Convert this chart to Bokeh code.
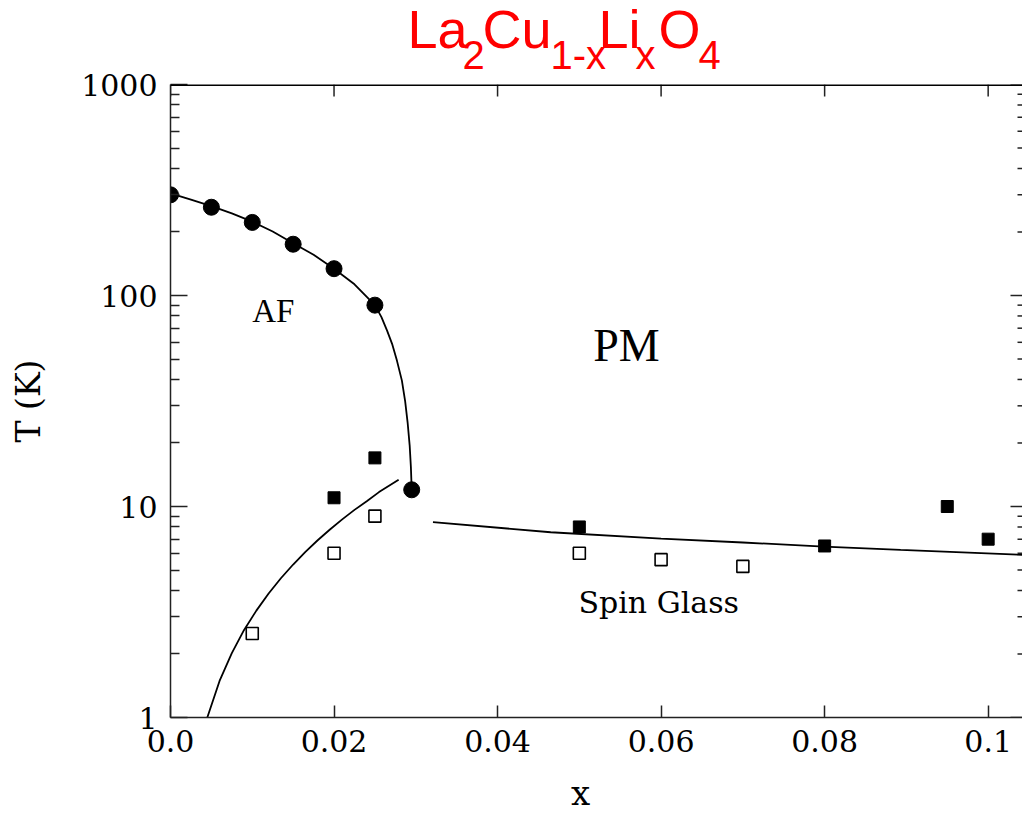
import math
from bokeh.plotting import figure
from bokeh.layouts import column
from bokeh.models import Range1d, FixedTicker, Span
from bokeh.core.properties import value
from bokeh.embed import file_html
from bokeh.resources import INLINE

# ---------------- data ----------------
# Neel temperature (filled circles)
af_x = [0.0, 0.005, 0.01, 0.015, 0.02, 0.025, 0.0295]
af_T = [300, 262, 222, 175, 134, 90, 12]

# spin-glass freezing, filled squares
sgf_x = [0.02, 0.025, 0.05, 0.08, 0.095, 0.1]
sgf_T = [11.0, 17.0, 8.0, 6.5, 10.0, 7.0]

# spin-glass, open squares
sgo_x = [0.01, 0.02, 0.025, 0.05, 0.06, 0.07]
sgo_T = [2.5, 6.0, 9.0, 6.0, 5.6, 5.2]

# guide curves
neel_curve_x = [0.0, 0.0025, 0.005, 0.0075, 0.01, 0.0125, 0.015, 0.0175, 0.02,
                0.0225, 0.025, 0.0258, 0.0265, 0.0271, 0.0277, 0.0283, 0.0287,
                0.0290, 0.02925, 0.0294, 0.0295]
neel_curve_T = [305, 285, 265, 245, 224, 201, 177, 156, 134,
                113, 90, 79, 68, 59, 49, 39.5, 31.5,
                25.0, 19.5, 15.4, 12.0]

sg_curve1_x = [0.0045, 0.006, 0.0075, 0.009, 0.0105, 0.012, 0.0135, 0.015, 0.0165,
               0.018, 0.0195, 0.021, 0.0225, 0.024, 0.0255, 0.0279]
sg_curve1_T = [1.00, 1.49, 2.02, 2.60, 3.21, 3.87, 4.57, 5.31, 6.09,
               6.92, 7.78, 8.69, 9.64, 10.6, 11.7, 13.4]

sg_curve2_x = [0.0321, 0.0465, 0.06, 0.07, 0.0799, 0.0893, 0.1042]
sg_curve2_T = [8.43, 7.55, 7.05, 6.75, 6.46, 6.23, 5.90]

# ticks
x_ticks = [0.0, 0.02, 0.04, 0.06, 0.08, 0.1]
x_tick_labels = ["0.0", "0.02", "0.04", "0.06", "0.08", "0.1"]
y_ticks = [1, 10, 100, 1000]
y_tick_labels = ["1", "10", "100", "1000"]

# title pieces
title_text = ["La", "2", "Cu", "1-x", "Li", "x", "O", "4"]
title_sub = [False, True, False, True, False, True, False, True]
x_title = "x"
y_title = "T (K)"

X_MAX = 0.1042
Y_MIN, Y_MAX = 1, 1000

W = 1022
LEFT = 170
TH = 82          # title strip height
OVERLAP = 22     # main figure's top border slides under the title strip
BH = 49          # bottom strip height (x-axis title)
PH = 814 - TH - BH + OVERLAP
P_TOP = TH - OVERLAP          # page y where the main figure starts


def strip(height):
    f = figure(title=None, width=W, height=height,
               x_range=Range1d(LEFT, W), y_range=Range1d(0, height),
               output_backend="svg", toolbar_location=None,
               min_border_left=LEFT, min_border_right=0,
               min_border_top=0, min_border_bottom=0)
    f.axis.visible = False
    f.grid.visible = False
    f.outline_line_color = None
    f.background_fill_color = "white"
    f.border_fill_color = "white"
    return f


# ---------------- title strip ----------------
tf = strip(TH)
title_left = [407, 462, 482, 550, 598, 635, 658, 698]
for txt, sub, xl in zip(title_text, title_sub, title_left):
    tf.text(x=[xl], y=[28 if sub else 54], text=[txt],
            text_font=value("Liberation Sans"),
            text_font_size="40px" if sub else "54px",
            text_color="#FF0000", text_align="left", text_baseline="alphabetic")

# ---------------- main figure ----------------
p = figure(title=None, width=W, height=PH,
           x_range=Range1d(0, X_MAX), y_range=Range1d(Y_MIN, Y_MAX),
           y_axis_type="log", output_backend="svg", toolbar_location=None,
           min_border_left=LEFT, min_border_right=0,
           min_border_top=84 - P_TOP, min_border_bottom=P_TOP + PH - 717,
           margin=(-OVERLAP, 0, 0, 0))
p.background_fill_color = "white"
p.border_fill_color = None
p.outline_line_color = None
p.xgrid.visible = False
p.ygrid.visible = False

AXIS_COLOR = "#222222"
y_minor = [m * 10 ** d for d in range(3) for m in range(2, 10)]

# bottom axis
xa = p.xaxis[0]
xa.ticker = FixedTicker(ticks=x_ticks)
xa.major_label_overrides = dict(zip(x_ticks, x_tick_labels))
xa.major_tick_in = 12
xa.major_tick_out = 0
xa.minor_tick_in = 0
xa.minor_tick_out = 0
xa.axis_line_color = AXIS_COLOR
xa.axis_line_width = 1.5
xa.major_tick_line_color = AXIS_COLOR
xa.major_tick_line_width = 1.5
xa.major_label_text_font = "DejaVu Serif"
xa.major_label_text_font_size = "30px"
xa.major_label_text_color = "black"
xa.major_label_standoff = 12

# left axis
ya = p.yaxis[0]
ya.ticker = FixedTicker(ticks=y_ticks, minor_ticks=y_minor)
ya.major_label_overrides = dict(zip(y_ticks, y_tick_labels))
ya.major_tick_in = 17
ya.major_tick_out = 0
ya.minor_tick_in = 9
ya.minor_tick_out = 0
ya.axis_line_color = AXIS_COLOR
ya.axis_line_width = 1.5
ya.major_tick_line_color = AXIS_COLOR
ya.major_tick_line_width = 1.5
ya.minor_tick_line_color = AXIS_COLOR
ya.minor_tick_line_width = 1.5
ya.major_label_text_font = "DejaVu Serif"
ya.major_label_text_font_size = "30px"
ya.major_label_text_color = "black"
ya.major_label_standoff = 13
ya.axis_label = y_title
ya.axis_label_text_font = "DejaVu Serif"
ya.axis_label_text_font_size = "33px"
ya.axis_label_text_font_style = "normal"
ya.axis_label_text_color = "black"
ya.axis_label_standoff = 30

# top frame line and inward ticks
p.add_layout(Span(location=Y_MAX, dimension="width", line_color="black", line_width=3))
p.ray(x=x_ticks, y=[Y_MAX] * len(x_ticks), length=12, length_units="screen",
      angle=-math.pi / 2, line_color=AXIS_COLOR, line_width=1.5)
# right-edge inward ticks
p.ray(x=[X_MAX] * len(y_ticks), y=y_ticks, length=12, length_units="screen",
      angle=math.pi, line_color=AXIS_COLOR, line_width=1.5)
p.ray(x=[X_MAX] * len(y_minor), y=y_minor, length=5, length_units="screen",
      angle=math.pi, line_color=AXIS_COLOR, line_width=1.5)

# ---------------- curves ----------------
p.line(neel_curve_x, neel_curve_T, line_color="black", line_width=1.8)
p.line(sg_curve1_x, sg_curve1_T, line_color="black", line_width=1.8)
p.line(sg_curve2_x, sg_curve2_T, line_color="black", line_width=1.8)

# ---------------- markers ----------------
p.scatter(af_x, af_T, marker="circle", size=16, fill_color="black", line_color="black")
p.scatter(sgf_x, sgf_T, marker="square", size=12, fill_color="black", line_color="black")
p.scatter(sgo_x, sgo_T, marker="square", size=12, fill_color="white",
          line_color="black", line_width=1.6)

# ---------------- region labels ----------------
p.text(x=[0.0100], y=[84.0], text=["AF"], text_font=value("Liberation Serif"),
       text_font_size="33px", text_color="black", text_baseline="alphabetic",
       text_align="left")
p.text(x=[0.0517], y=[57.9], text=["PM"], text_font=value("Liberation Serif"),
       text_font_size="46px", text_color="black", text_baseline="alphabetic",
       text_align="left")
p.text(x=[0.0499], y=[3.51], text=["Spin Glass"], text_font=value("DejaVu Serif"),
       text_font_size="30px", text_color="black", text_baseline="alphabetic",
       text_align="left")

# ---------------- x-axis title strip ----------------
bf = strip(BH)
bf.text(x=[580], y=[21.5], text=[x_title], text_font=value("DejaVu Serif"),
        text_font_size="34px", text_color="black", text_align="center",
        text_baseline="alphabetic")

layout = column(tf, p, bf, spacing=0)
open("out.html", "w").write(file_html(layout, INLINE))
